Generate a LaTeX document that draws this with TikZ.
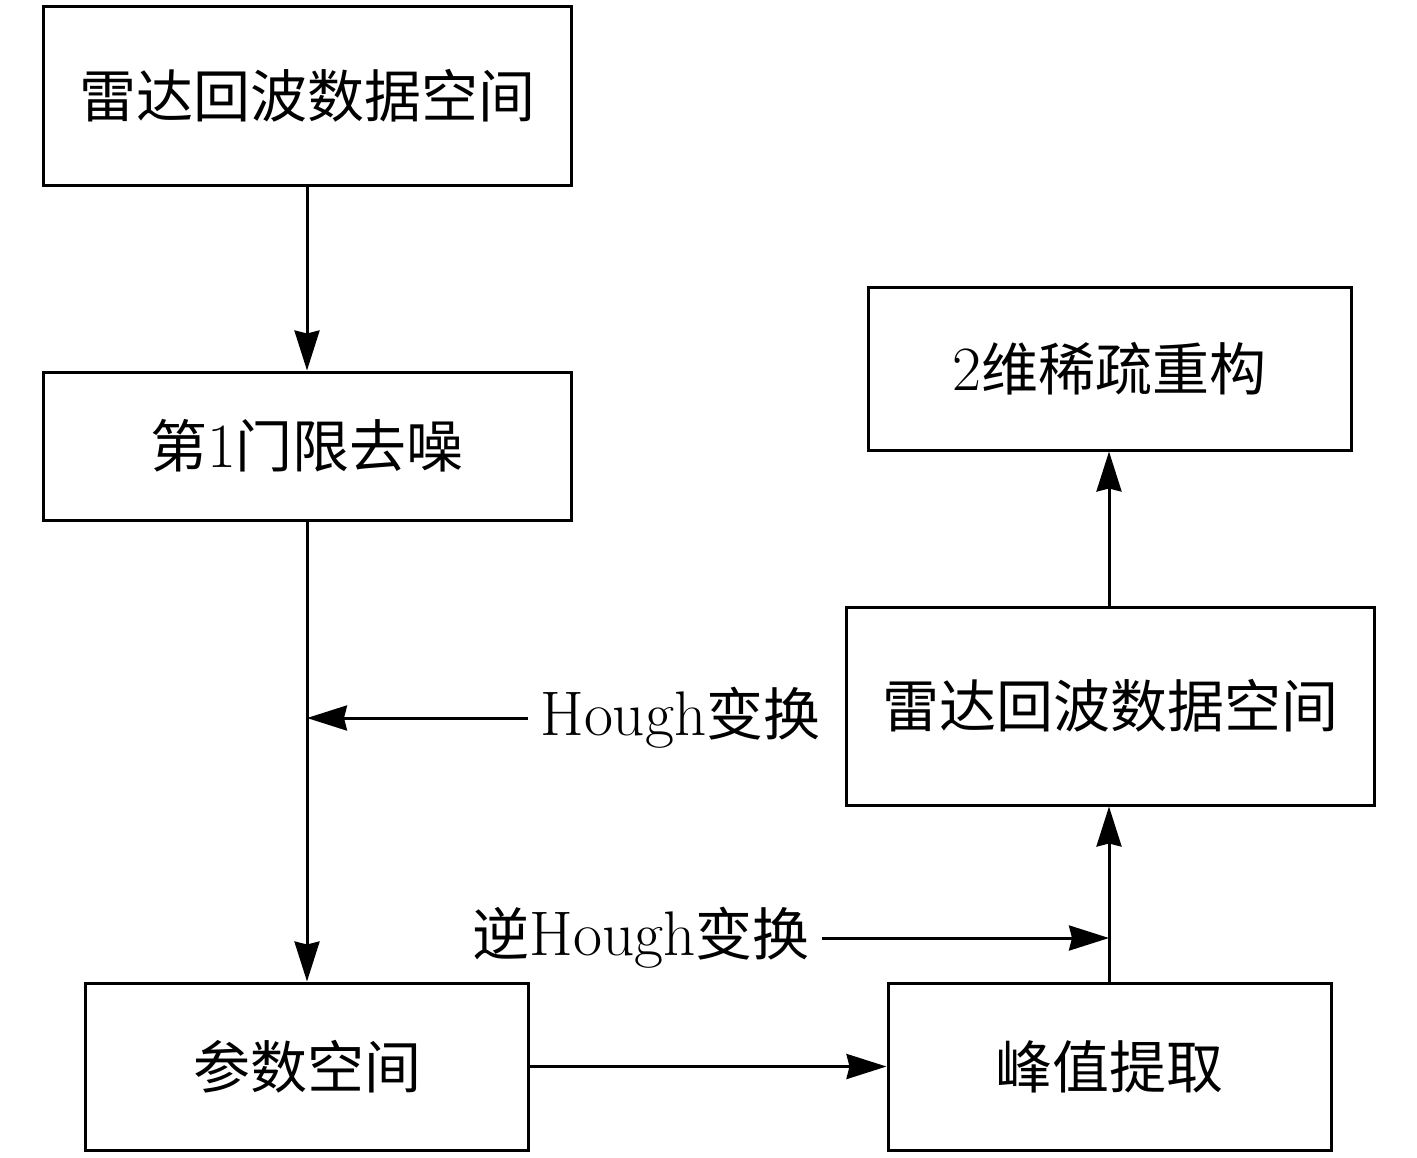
\documentclass[tikz,border=0pt]{standalone}
\usepackage{fontspec}
\newfontfamily\cjk{Noto Sans CJK SC}
\newcommand{\lat}[1]{{\fontsize{31.5}{32}\selectfont #1}}
\usetikzlibrary{arrows.meta}
\begin{document}
\begin{tikzpicture}[x=0.5pt,y=-0.5pt,
  box/.style={draw,line width=1.5pt,inner sep=0pt,font=\fontsize{28.5}{30}\selectfont},
  lab/.style={inner xsep=6pt,inner ysep=0pt,font=\fontsize{28.5}{30}\selectfont},
  conn/.style={line width=1.5pt,-{Stealth[length=20pt,width=12.5pt,inset=1.5pt]}}]
\useasboundingbox (0,0) rectangle (1417,1157);
\node[box,minimum width=264pt,minimum height=89.5pt] (b1) at (307,95.5) {\cjk 雷达回波数据空间};
\node[box,minimum width=264pt,minimum height=74pt] (b2) at (307,446) {{\cjk 第}\lat{1}{\cjk 门限去噪}};
\node[box,minimum width=221.5pt,minimum height=83.5pt] (b3) at (307,1066.5) {\cjk 参数空间};
\node[box,minimum width=221.5pt,minimum height=83.5pt] (b4) at (1109.5,1066.5) {\cjk 峰值提取};
\node[box,minimum width=264pt,minimum height=99pt] (b5) at (1110,706) {\cjk 雷达回波数据空间};
\node[box,minimum width=241.5pt,minimum height=81.5pt] (b6) at (1109.5,368.5) {\lat{2}{\cjk 维稀疏重构}};
\node[lab,anchor=west] (l1) at (528,718) {\lat{Hough}{\cjk 变换}};
\node[lab,anchor=east] (l2) at (822,938) {{\cjk 逆}\lat{Hough}{\cjk 变换}};
\coordinate (c1) at (307,718);
\coordinate (c2) at (1109,938);
\draw[conn] (b1.south) -- (b2.north);
\draw[conn] (b2.south) -- (b3.north);
\draw[conn] (l1.west) -- (c1);
\draw[conn] (b3.east) -- (b4.west);
\draw[conn] (b4.north -| c2) -- (b5.south -| c2);
\draw[conn] (l2.east) -- (c2);
\draw[conn] (b5.north -| c2) -- (b6.south -| c2);
\end{tikzpicture}
\end{document}
